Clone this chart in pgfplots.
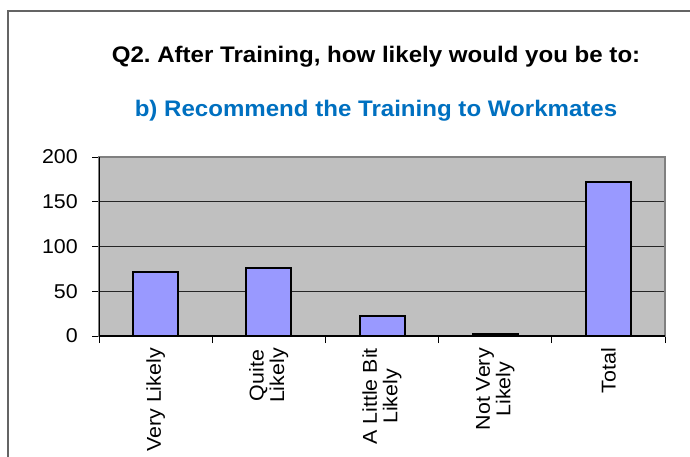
\documentclass[border=0pt]{standalone}
\usepackage{pgfplots}
\pgfplotsset{compat=1.18}
\usepackage{fontspec}
\setmainfont{Liberation Sans}[FakeStretch=1.07]
\definecolor{plotgray}{RGB}{192,192,192}
\definecolor{barfill}{RGB}{153,153,255}
\definecolor{subblue}{RGB}{0,112,192}
\definecolor{framegray}{RGB}{100,100,100}
\definecolor{boxgray}{RGB}{128,128,128}
\begin{document}
\begin{tikzpicture}[x=1bp,y=1bp]
\useasboundingbox (0,0) rectangle (690,-457);
\draw[line width=1.2bp, framegray] (8,-460) -- (8,-11) -- (692,-11);
\node[anchor=base, font=\bfseries\fontsize{22.5bp}{24bp}\selectfont, inner sep=0pt] at (376,-63) {Q2.\ After Training, how likely would you be to:};
\node[anchor=base, text=subblue, font=\bfseries\fontsize{22.5bp}{24bp}\selectfont, inner sep=0pt] at (376,-117) {b) Recommend the Training to Workmates};
\begin{axis}[
  at={(99bp,-336bp)}, anchor=south west,
  scale only axis, width=566bp, height=179bp,
  xmin=-0.5, xmax=4.5, ymin=0, ymax=200,
  enlargelimits=false,
  axis background/.style={fill=plotgray},
  axis line style={boxgray, line width=1.4bp},
  ytick={0,50,100,150,200},
  xtick={-0.5,0.5,1.5,2.5,3.5,4.5},
  xticklabels={},
  extra x ticks={0,1,2,3,4},
  extra x tick labels={Very Likely,{Quite\\Likely},{A Little Bit\\Likely},{Not Very\\Likely},Total},
  extra x tick style={major tick length=0pt, tick style={draw=none}},
  tick align=outside,
  tick pos=left,
  major tick length=7bp,
  tick style={black, line width=0.8bp},
  ymajorgrids,
  major grid style={black!85, line width=0.7bp},
  /pgf/number format/assume math mode=true,
  yticklabel style={font=\fontsize{20bp}{21bp}\selectfont, inner sep=0pt, xshift=-14bp},
  xticklabel style={font=\fontsize{20bp}{20.5bp}\selectfont, yshift=-12bp, rotate=90, anchor=east, align=center, inner sep=0pt},
]
\addplot[ybar, bar width=45bp, fill=barfill, draw=black, line width=2bp] coordinates {(0,72) (1,76) (2,22) (3,2) (4,172)};
\draw[black, line width=1.2bp] (rel axis cs:0,1) -- (rel axis cs:0,0) -- (rel axis cs:1,0);
\end{axis}
\end{tikzpicture}
\end{document}
